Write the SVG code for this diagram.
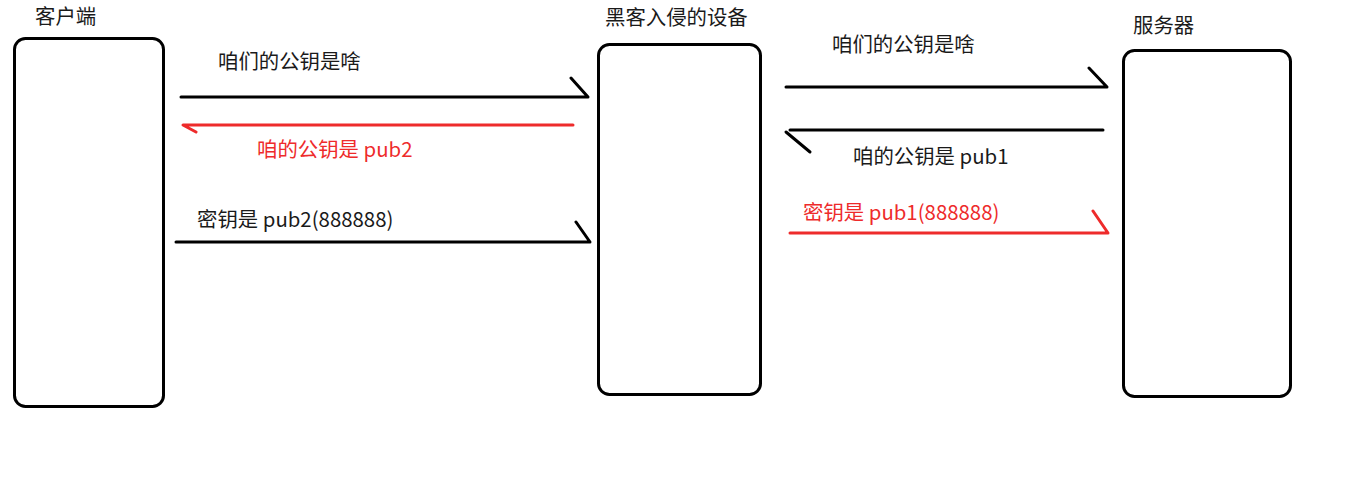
<svg xmlns="http://www.w3.org/2000/svg" width="1360" height="480" viewBox="0 0 1360 480">
<style>
.box{fill:#fff;stroke:#000;stroke-width:3}
.t{font-family:"Noto Sans CJK SC","Noto Sans",sans-serif;font-size:20.4px;fill:#1a1a1a}
.r{fill:#ee2b2b}
.l{fill:none;stroke:#000;stroke-width:3;stroke-linecap:round;stroke-linejoin:round}
.lr{stroke:#ee2b2b}
</style>
<rect width="1360" height="480" fill="#fff"/>
<g id="client">
<rect class="box" x="14.5" y="38.5" width="149" height="368" rx="11"/>
<text class="t" x="35" y="24">客户端</text>
</g>
<g id="hacker">
<rect class="box" x="598.5" y="44.5" width="162" height="350" rx="11"/>
<text class="t" x="605" y="25">黑客入侵的设备</text>
</g>
<g id="server">
<rect class="box" x="1123.5" y="50.5" width="167" height="346" rx="11"/>
<text class="t" x="1133" y="33">服务器</text>
</g>
<g id="connectors">
<polyline class="l" points="181,97 588,97 571,78"/>
<text class="t" x="218" y="69">咱们的公钥是啥</text>
<polyline class="l lr" points="573,125 183,125 196,132"/>
<text class="t r" x="257" y="157">咱的公钥是 pub2</text>
<polyline class="l" points="176,242 590,242 576,222"/>
<text class="t" x="197" y="227">密钥是 pub2(888888)</text>
<polyline class="l" points="786,87 1107,87 1089,68"/>
<text class="t" x="832" y="52">咱们的公钥是啥</text>
<line class="l" x1="1103" y1="130" x2="790" y2="130"/>
<line class="l" x1="786" y1="132" x2="810" y2="152"/>
<text class="t" x="853" y="164">咱的公钥是 pub1</text>
<polyline class="l lr" points="790,233 1108,233 1093,211"/>
<text class="t r" x="803" y="220">密钥是 pub1(888888)</text>
</g>
</svg>
